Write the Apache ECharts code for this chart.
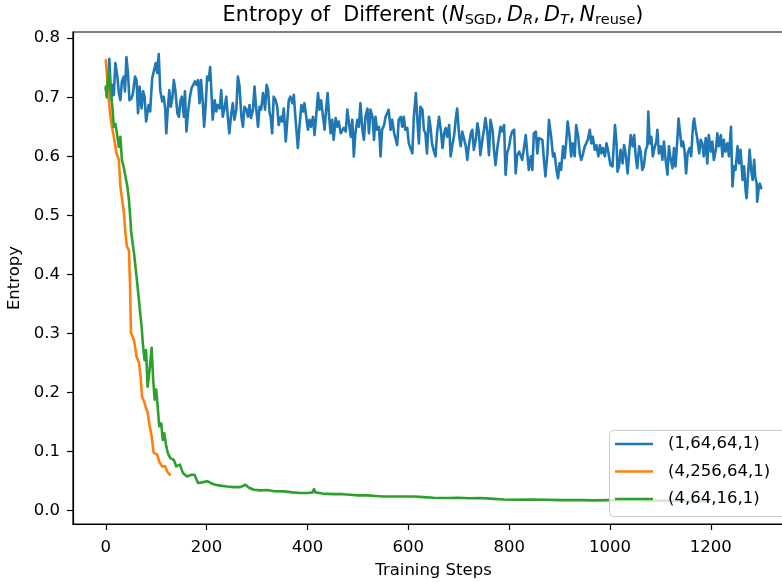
<!DOCTYPE html>
<html>
<head>
<meta charset="utf-8">
<script src="https://cdn.jsdelivr.net/npm/echarts@6/dist/echarts.min.js"></script>
<style>
html,body{margin:0;padding:0;background:#fff;}
#chart{width:782px;height:582px;}
</style>
</head>
<body>
<div id="chart"></div>
<script>
// ---------------- data ----------------
const seriesNames = ['(1,64,64,1)', '(4,256,64,1)', '(4,64,16,1)'];
const seriesColors = ['#1f77b4', '#ff7f0e', '#2ca02c'];

const xTickValues = [0, 200, 400, 600, 800, 1000, 1200];
const yTickValues = [0.0, 0.1, 0.2, 0.3, 0.4, 0.5, 0.6, 0.7, 0.8];

const blueSteps = [0,3,7,11,14,16,19,23,26,29,32,36,38,41,44,47,51,54,58,61,64,67,71,74,77,80,83,85,88,92,95,99,102,105,108,112,115,118,120,123,126,129,132,135,138,142,145,148,151,155,157,160,163,167,170,173,177,180,183,186,189,193,195,198,201,204,207,210,212,216,219,222,226,229,232,235,239,242,245,249,252,255,259,262,265,269,272,275,279,282,285,288,292,295,298,302,305,308,312,316,319,322,325,
327,330,333,337,340,343,347,350,353,357,360,363,366,370,373,376,381,384,388,391,394,397,401,404,407,411,414,417,421,424,427,430,434,437,440,443,446,449,452,456,459,462,466,469,472,476,479,482,486,489,492,495,499,502,505,509,512,515,519,522,525,529,532,535,538,542,545,548,552,555,558,561,565,568,572,575,578,581,585,588,591,594,598,601,604,608,611,615,618,621,624,628,631,634,637,641,644,647,650,654,657,
661,664,668,671,674,677,681,684,687,691,694,697,701,704,707,710,714,717,720,724,727,730,734,737,740,743,747,750,753,757,760,763,767,770,773,777,780,783,786,790,793,796,800,803,806,810,813,816,820,823,826,830,833,836,839,843,846,849,853,856,859,862,866,869,872,876,879,881,884,887,890,894,897,900,903,907,910,913,916,920,923,926,930,933,937,940,943,946,950,953,956,960,963,966,970,973,977,980,983,986,990,993,996,
1001,1005,1008,1010,1013,1015,1018,1021,1025,1028,1031,1035,1038,1041,1045,1048,1051,1054,1058,1061,1064,1067,1071,1074,1076,1079,1082,1085,1089,1092,1094,1097,1101,1104,1107,1110,1114,1117,1120,1124,1127,1130,1134,1136,1139,1142,1145,1148,1151,1154,1158,1161,1165,1167,1170,1173,1177,1180,1183,1186,1190,1193,1196,1200,1203,1206,1210,1213,1216,1220,1223,1226,1229,1233,1236,1240,1243,1246,1249,1253,1256,1259,1263,1266,1269,1271,1274,1277,1280,1283,1286,1288,1291,1292,1295,1297,1299,1300];
const blueEntropy = [0.715,0.700,0.765,0.695,0.721,0.704,0.758,0.735,0.707,0.695,0.727,0.735,0.710,0.768,0.741,0.695,0.698,0.707,0.735,0.729,0.673,0.718,0.681,0.710,0.701,0.659,0.662,0.687,0.676,0.732,0.735,0.758,0.741,0.773,0.712,0.693,0.701,0.679,0.639,0.679,0.712,0.684,0.698,0.729,0.712,0.673,0.667,0.693,0.701,0.667,0.710,0.642,0.673,0.701,0.715,0.718,0.727,0.721,0.729,0.690,0.729,0.684,0.650,0.684,0.735,0.729,0.751,0.701,0.662,0.695,0.676,0.687,0.681,0.712,0.667,0.679,0.701,0.667,0.639,0.673,0.690,0.662,0.679,0.735,0.721,0.667,0.650,0.684,0.679,0.667,0.687,0.665,0.679,0.718,0.684,0.650,0.684,0.679,0.707,0.679,0.721,0.712,0.673,
0.667,0.639,0.701,0.695,0.684,0.653,0.667,0.659,0.681,0.625,0.622,0.695,0.701,0.690,0.704,0.667,0.614,0.650,0.687,0.676,0.690,0.690,0.645,0.662,0.650,0.667,0.636,0.665,0.707,0.679,0.695,0.673,0.645,0.679,0.707,0.667,0.639,0.662,0.628,0.665,0.650,0.659,0.639,0.636,0.648,0.642,0.679,0.659,0.633,0.662,0.600,0.639,0.662,0.650,0.690,0.645,0.628,0.667,0.681,0.639,0.679,0.667,0.628,0.667,0.645,0.650,0.600,0.645,0.653,0.667,0.670,0.679,0.645,0.662,0.639,0.639,0.619,0.662,0.667,0.650,0.667,0.645,0.648,0.622,0.622,0.605,0.667,0.707,0.662,0.622,0.684,0.679,0.645,0.639,0.605,0.667,0.650,0.622,0.611,0.600,0.639,
0.667,0.648,0.614,0.639,0.648,0.633,0.653,0.600,0.617,0.636,0.662,0.681,0.633,0.617,0.642,0.642,0.617,0.594,0.617,0.639,0.645,0.611,0.628,0.656,0.642,0.602,0.628,0.645,0.665,0.639,0.602,0.662,0.645,0.611,0.585,0.617,0.633,0.650,0.642,0.653,0.569,0.605,0.617,0.633,0.642,0.645,0.571,0.602,0.608,0.611,0.594,0.617,0.636,0.605,0.577,0.600,0.577,0.639,0.642,0.605,0.631,0.631,0.628,0.594,0.566,0.605,0.662,0.665,0.628,0.600,0.605,0.577,0.563,0.588,0.577,0.617,0.597,0.622,0.659,0.633,0.600,0.622,0.600,0.653,0.633,0.605,0.594,0.602,0.617,0.622,0.628,0.645,0.622,0.633,0.611,0.619,0.600,0.619,0.605,0.614,0.600,0.622,0.611,
0.585,0.583,0.625,0.653,0.622,0.574,0.583,0.611,0.588,0.619,0.605,0.571,0.605,0.636,0.617,0.636,0.600,0.580,0.617,0.608,0.577,0.583,0.611,0.617,0.676,0.622,0.633,0.600,0.617,0.625,0.645,0.605,0.617,0.594,0.625,0.597,0.569,0.617,0.597,0.580,0.614,0.583,0.633,0.664,0.662,0.617,0.625,0.608,0.571,0.605,0.614,0.600,0.656,0.664,0.645,0.631,0.605,0.628,0.622,0.600,0.631,0.588,0.636,0.608,0.625,0.594,0.611,0.639,0.617,0.636,0.600,0.628,0.608,0.622,0.600,0.650,0.549,0.583,0.577,0.617,0.588,0.611,0.560,0.583,0.543,0.529,0.571,0.611,0.577,0.560,0.594,0.566,0.554,0.523,0.546,0.554,0.549,0.546];

const orangeSteps = [0,3,6,9,11,16,21,26,29,32,36,39,42,46,48,50,53,56,61,66,69,72,76,79,83,87,91,95,102,107,112,118,122,127];
const orangeEntropy = [0.763,0.730,0.695,0.670,0.656,0.633,0.606,0.594,0.549,0.530,0.504,0.470,0.447,0.441,0.386,0.301,0.295,0.289,0.261,0.250,0.227,0.193,0.185,0.176,0.166,0.143,0.126,0.098,0.095,0.081,0.075,0.075,0.066,0.061];

const greenSteps = [0,2,4,6,9,13,16,19,22,26,29,32,36,39,43,46,49,50,53,56,59,63,67,71,74,77,80,83,87,91,94,97,100,103,106,110,113,116,120,123,128,135,140,147,153,161,170,176,183,191,201,208,217,227,240,254,267,277,284,294,307,320,335,353,370,386,400,410,413,416,430,452,470,485,500,519,535,552,570,585,600,611,630,650,677,700,720,743,770,790,810,840,876,900,920,942,970,995,1020,1048,1075,1107,1140,1170,1195];
const greenEntropy = [0.718,0.700,0.730,0.746,0.715,0.684,0.650,0.655,0.640,0.616,0.633,0.594,0.580,0.566,0.548,0.526,0.492,0.475,0.455,0.436,0.413,0.380,0.346,0.312,0.278,0.255,0.272,0.210,0.239,0.276,0.222,0.188,0.205,0.176,0.143,0.148,0.120,0.131,0.109,0.098,0.089,0.086,0.075,0.078,0.064,0.058,0.061,0.061,0.047,0.048,0.050,0.047,0.044,0.0425,0.041,0.040,0.040,0.044,0.039,0.0355,0.0345,0.035,0.033,0.0327,0.031,0.030,0.030,0.031,0.0367,0.031,0.029,0.028,0.028,0.027,0.026,0.026,0.025,0.024,0.024,0.024,0.024,0.024,0.023,0.022,0.0215,0.022,0.021,0.0215,0.020,0.019,0.0186,0.019,0.0186,0.018,0.018,0.018,0.0175,0.018,0.018,0.019,0.017,0.017,0.0165,0.016,0.0157];

// ---------------- chart ----------------
const zip = (xs, ys) => xs.map((x, i) => [x, ys[i]]);
const FONT = 'DejaVu Sans';
const chart = echarts.init(document.getElementById('chart'), null, {renderer: 'canvas'});

const lineSeries = (name, color, data) => ({
  name, type: 'line', data, showSymbol: false, symbol: 'none',
  lineStyle: {color, width: 2.6, join: 'round', cap: 'round'},
  itemStyle: {color}, animation: false, silent: true
});

chart.setOption({
  animation: false,
  backgroundColor: '#ffffff',
  grid: {left: 73, top: 32, right: -12, bottom: 58, outerBoundsMode: 'none', containLabel: false,
         show: true, borderColor: '#000', borderWidth: 1.2, backgroundColor: 'transparent'},
  graphic: [{
    type: 'text', x: 433, y: 3, z: 10,
    style: {
      text: '{a|Entropy of  Different (}{i|N}{s|SGD}{a|,\u2009}{i|D}{si|R}{a|,\u2009}{i|D}{si|T}{a|,\u2009}{i|N}{s|reuse}{a|)}',
      align: 'center', verticalAlign: 'top',
      rich: {
        a: {fontFamily: FONT, fontSize: 20.8, lineHeight: 25, verticalAlign: 'middle', fill: '#000'},
        i: {fontFamily: FONT, fontSize: 20.8, fontStyle: 'italic', lineHeight: 25, verticalAlign: 'middle', fill: '#000'},
        s: {fontFamily: FONT, fontSize: 14.5, lineHeight: 12, verticalAlign: 'bottom', fill: '#000'},
        si: {fontFamily: FONT, fontSize: 14.5, fontStyle: 'italic', lineHeight: 12, verticalAlign: 'bottom', fill: '#000'}
      }
    }
  }, {
    type: 'rect', z: 15,
    shape: {x: 609.5, y: 430.5, width: 220, height: 86, r: 4},
    style: {fill: 'rgba(255,255,255,0.8)', stroke: '#cccccc', lineWidth: 1}
  }],
  xAxis: {
    type: 'value', min: -65, max: 1365,
    name: 'Training Steps', nameLocation: 'middle', nameGap: 38,
    nameTextStyle: {fontFamily: FONT, fontSize: 16.5, color: '#000'},
    axisLine: {show: true, onZero: false, lineStyle: {color: '#000', width: 1.2}},
    axisTick: {show: true, inside: false, length: 6, customValues: xTickValues, lineStyle: {color: '#000', width: 1.2}},
    axisLabel: {customValues: xTickValues, margin: 15, fontFamily: FONT, fontSize: 16.5, color: '#000', formatter: v => String(v)},
    splitLine: {show: false}
  },
  yAxis: {
    type: 'value', min: -0.0225, max: 0.8105,
    name: 'Entropy', nameLocation: 'middle', nameGap: 50, nameRotate: 90,
    nameTextStyle: {fontFamily: FONT, fontSize: 16.5, color: '#000'},
    axisLine: {show: true, onZero: false, lineStyle: {color: '#000', width: 1.2}},
    axisTick: {show: true, inside: false, length: 6, customValues: yTickValues, lineStyle: {color: '#000', width: 1.2}},
    axisLabel: {customValues: yTickValues, margin: 13, fontFamily: FONT, fontSize: 16.5, color: '#000', formatter: v => v.toFixed(1)},
    splitLine: {show: false}
  },
  legend: {
    show: true, selectedMode: false, orient: 'vertical',
    left: 609, top: 430,
    data: seriesNames,
    icon: 'rect', itemWidth: 38, itemHeight: 2.5, itemGap: 8.5,
    padding: [4.5, 5, 7, 6],
    backgroundColor: 'transparent', borderWidth: 0,
    textStyle: {fontFamily: FONT, fontSize: 16.5, color: '#000', lineHeight: 19, padding: [0, 0, 0, 10]},
    z: 20
  },
  series: [
    lineSeries(seriesNames[0], seriesColors[0], zip(blueSteps, blueEntropy)),
    lineSeries(seriesNames[1], seriesColors[1], zip(orangeSteps, orangeEntropy)),
    lineSeries(seriesNames[2], seriesColors[2], zip(greenSteps, greenEntropy))
  ]
});
</script>
</body>
</html>
